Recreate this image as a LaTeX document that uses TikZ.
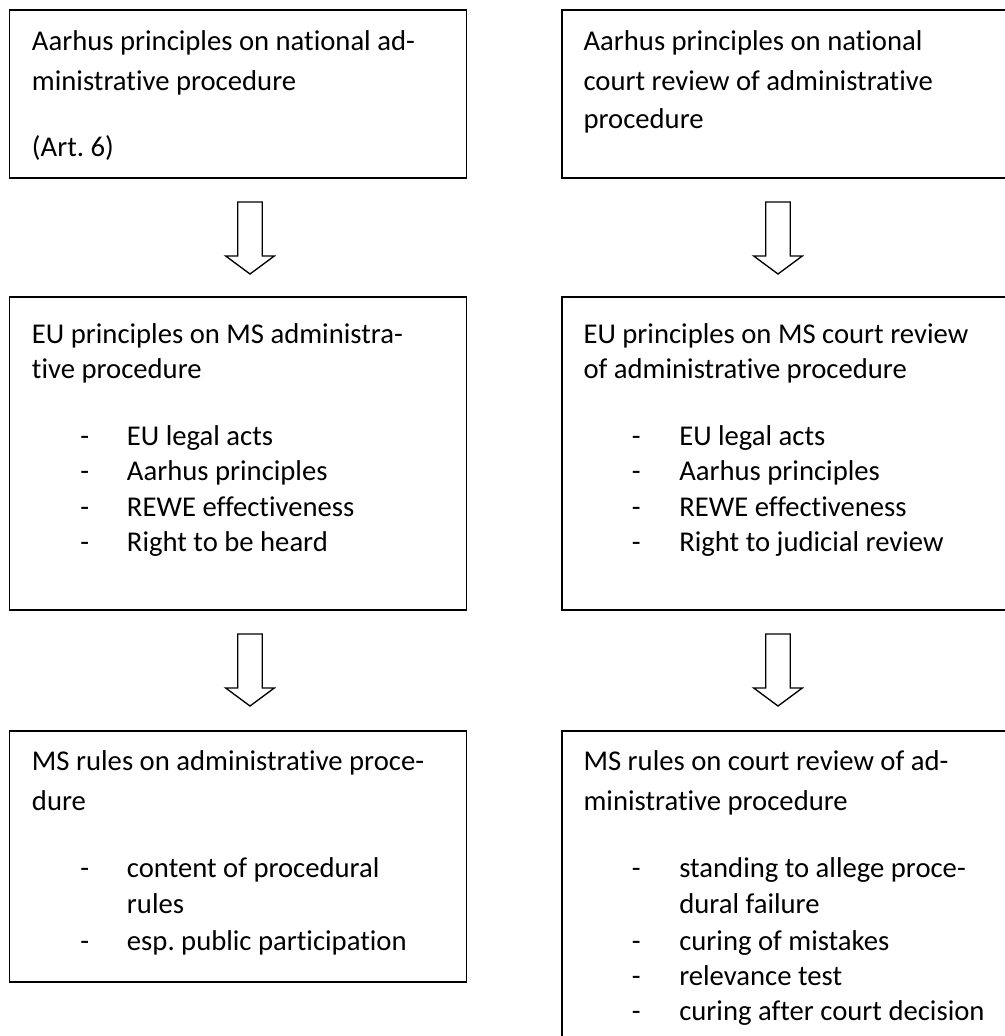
\documentclass[tikz,border=0pt]{standalone}
\usepackage{fontspec}
\setmainfont{Carlito}[Ligatures=NoCommon]
\usetikzlibrary{fit}
\frenchspacing
\begin{document}
\begin{tikzpicture}[x=0.75pt,y=-0.75pt,
  box/.style={draw, line width=1.3pt, inner sep=0pt},
  txt/.style={anchor=base west, inner sep=0pt, font=\fontsize{21.5}{25}\selectfont\frenchspacing},
  blk/.style={draw, line width=1pt, line join=miter}]
\useasboundingbox (0,0) rectangle (1005,1036);
\clip (0,0) rectangle (1005,1036);
% boxes
\node[box, fit={(9.5,10)(466.5,178)}] (L1) {};
\node[box, fit={(9.5,297.3)(466.5,610)}] (L2) {};
\node[box, fit={(9.5,730.7)(466.5,982)}] (L3) {};
\node[box, fit={(561.7,10)(1030,178)}] (R1) {};
\node[box, fit={(561.7,297.3)(1030,610)}] (R2) {};
\node[box, fit={(561.7,730.7)(1030,1070)}] (R3) {};
% block arrows
\foreach \cx/\yt/\nm in {250/202/aL1, 250/634/aL2, 778/202/aR1, 778/634/aR2}{
  \draw[blk] (\cx-12.3,\yt) -- (\cx+12.3,\yt) -- (\cx+12.3,\yt+54) -- (\cx+24.3,\yt+54)
    -- (\cx,\yt+72) -- (\cx-24.3,\yt+54) -- (\cx-12.3,\yt+54) -- cycle;
}
% box L1
\node[txt] (l1a) at (31.7,50) {Aarhus principles on national ad-};
\node[txt] (l1b) at (31.7,90) {ministrative procedure};
\node[txt] (l1c) at (31.7,156) {(Art. 6)};
% box R1
\node[txt] (r1a) at (583.3,50) {Aarhus principles on national};
\node[txt] (r1b) at (583.3,90) {court review of administrative};
\node[txt] (r1c) at (583.3,128) {procedure};
% box L2
\node[txt] (l2a) at (31.7,343.3) {EU principles on MS administra-};
\node[txt] (l2b) at (31.7,378) {tive procedure};
\foreach \y/\t/\n in {445/EU legal acts/1, 480.5/Aarhus principles/2, 516.5/REWE effectiveness/3, 551.5/Right to be heard/4}{
  \node[txt] (l2d\n) at (80,\y) {-};
  \node[txt] (l2t\n) at (126.7,\y) {\t};
}
% box R2
\node[txt] (r2a) at (583.3,343.3) {EU principles on MS court review};
\node[txt] (r2b) at (583.3,378) {of administrative procedure};
\foreach \y/\t/\n in {445/EU legal acts/1, 480.5/Aarhus principles/2, 516.5/REWE effectiveness/3, 551.5/Right to judicial review/4}{
  \node[txt] (r2d\n) at (631.7,\y) {-};
  \node[txt] (r2t\n) at (679,\y) {\t};
}
% box L3
\node[txt] (l3a) at (31.7,770) {MS rules on administrative proce-};
\node[txt] (l3b) at (31.7,810) {dure};
\node[txt] (l3d1) at (80,877) {-};
\node[txt] (l3t1) at (126.7,877) {content of procedural};
\node[txt] (l3t1b) at (126.7,913) {rules};
\node[txt] (l3d2) at (80,950) {-};
\node[txt] (l3t2) at (126.7,950) {esp. public participation};
% box R3
\node[txt] (r3a) at (583.3,770) {MS rules on court review of ad-};
\node[txt] (r3b) at (583.3,810) {ministrative procedure};
\node[txt] (r3d1) at (631.7,877) {-};
\node[txt] (r3t1) at (679,877) {standing to allege proce-};
\node[txt] (r3t1b) at (679,913) {dural failure};
\node[txt] (r3d2) at (631.7,950) {-};
\node[txt] (r3t2) at (679,950) {curing of mistakes};
\node[txt] (r3d3) at (631.7,985) {-};
\node[txt] (r3t3) at (679,985) {relevance test};
\node[txt] (r3d4) at (631.7,1020) {-};
\node[txt] (r3t4) at (679,1020) {curing after court decision};
\end{tikzpicture}
\end{document}
